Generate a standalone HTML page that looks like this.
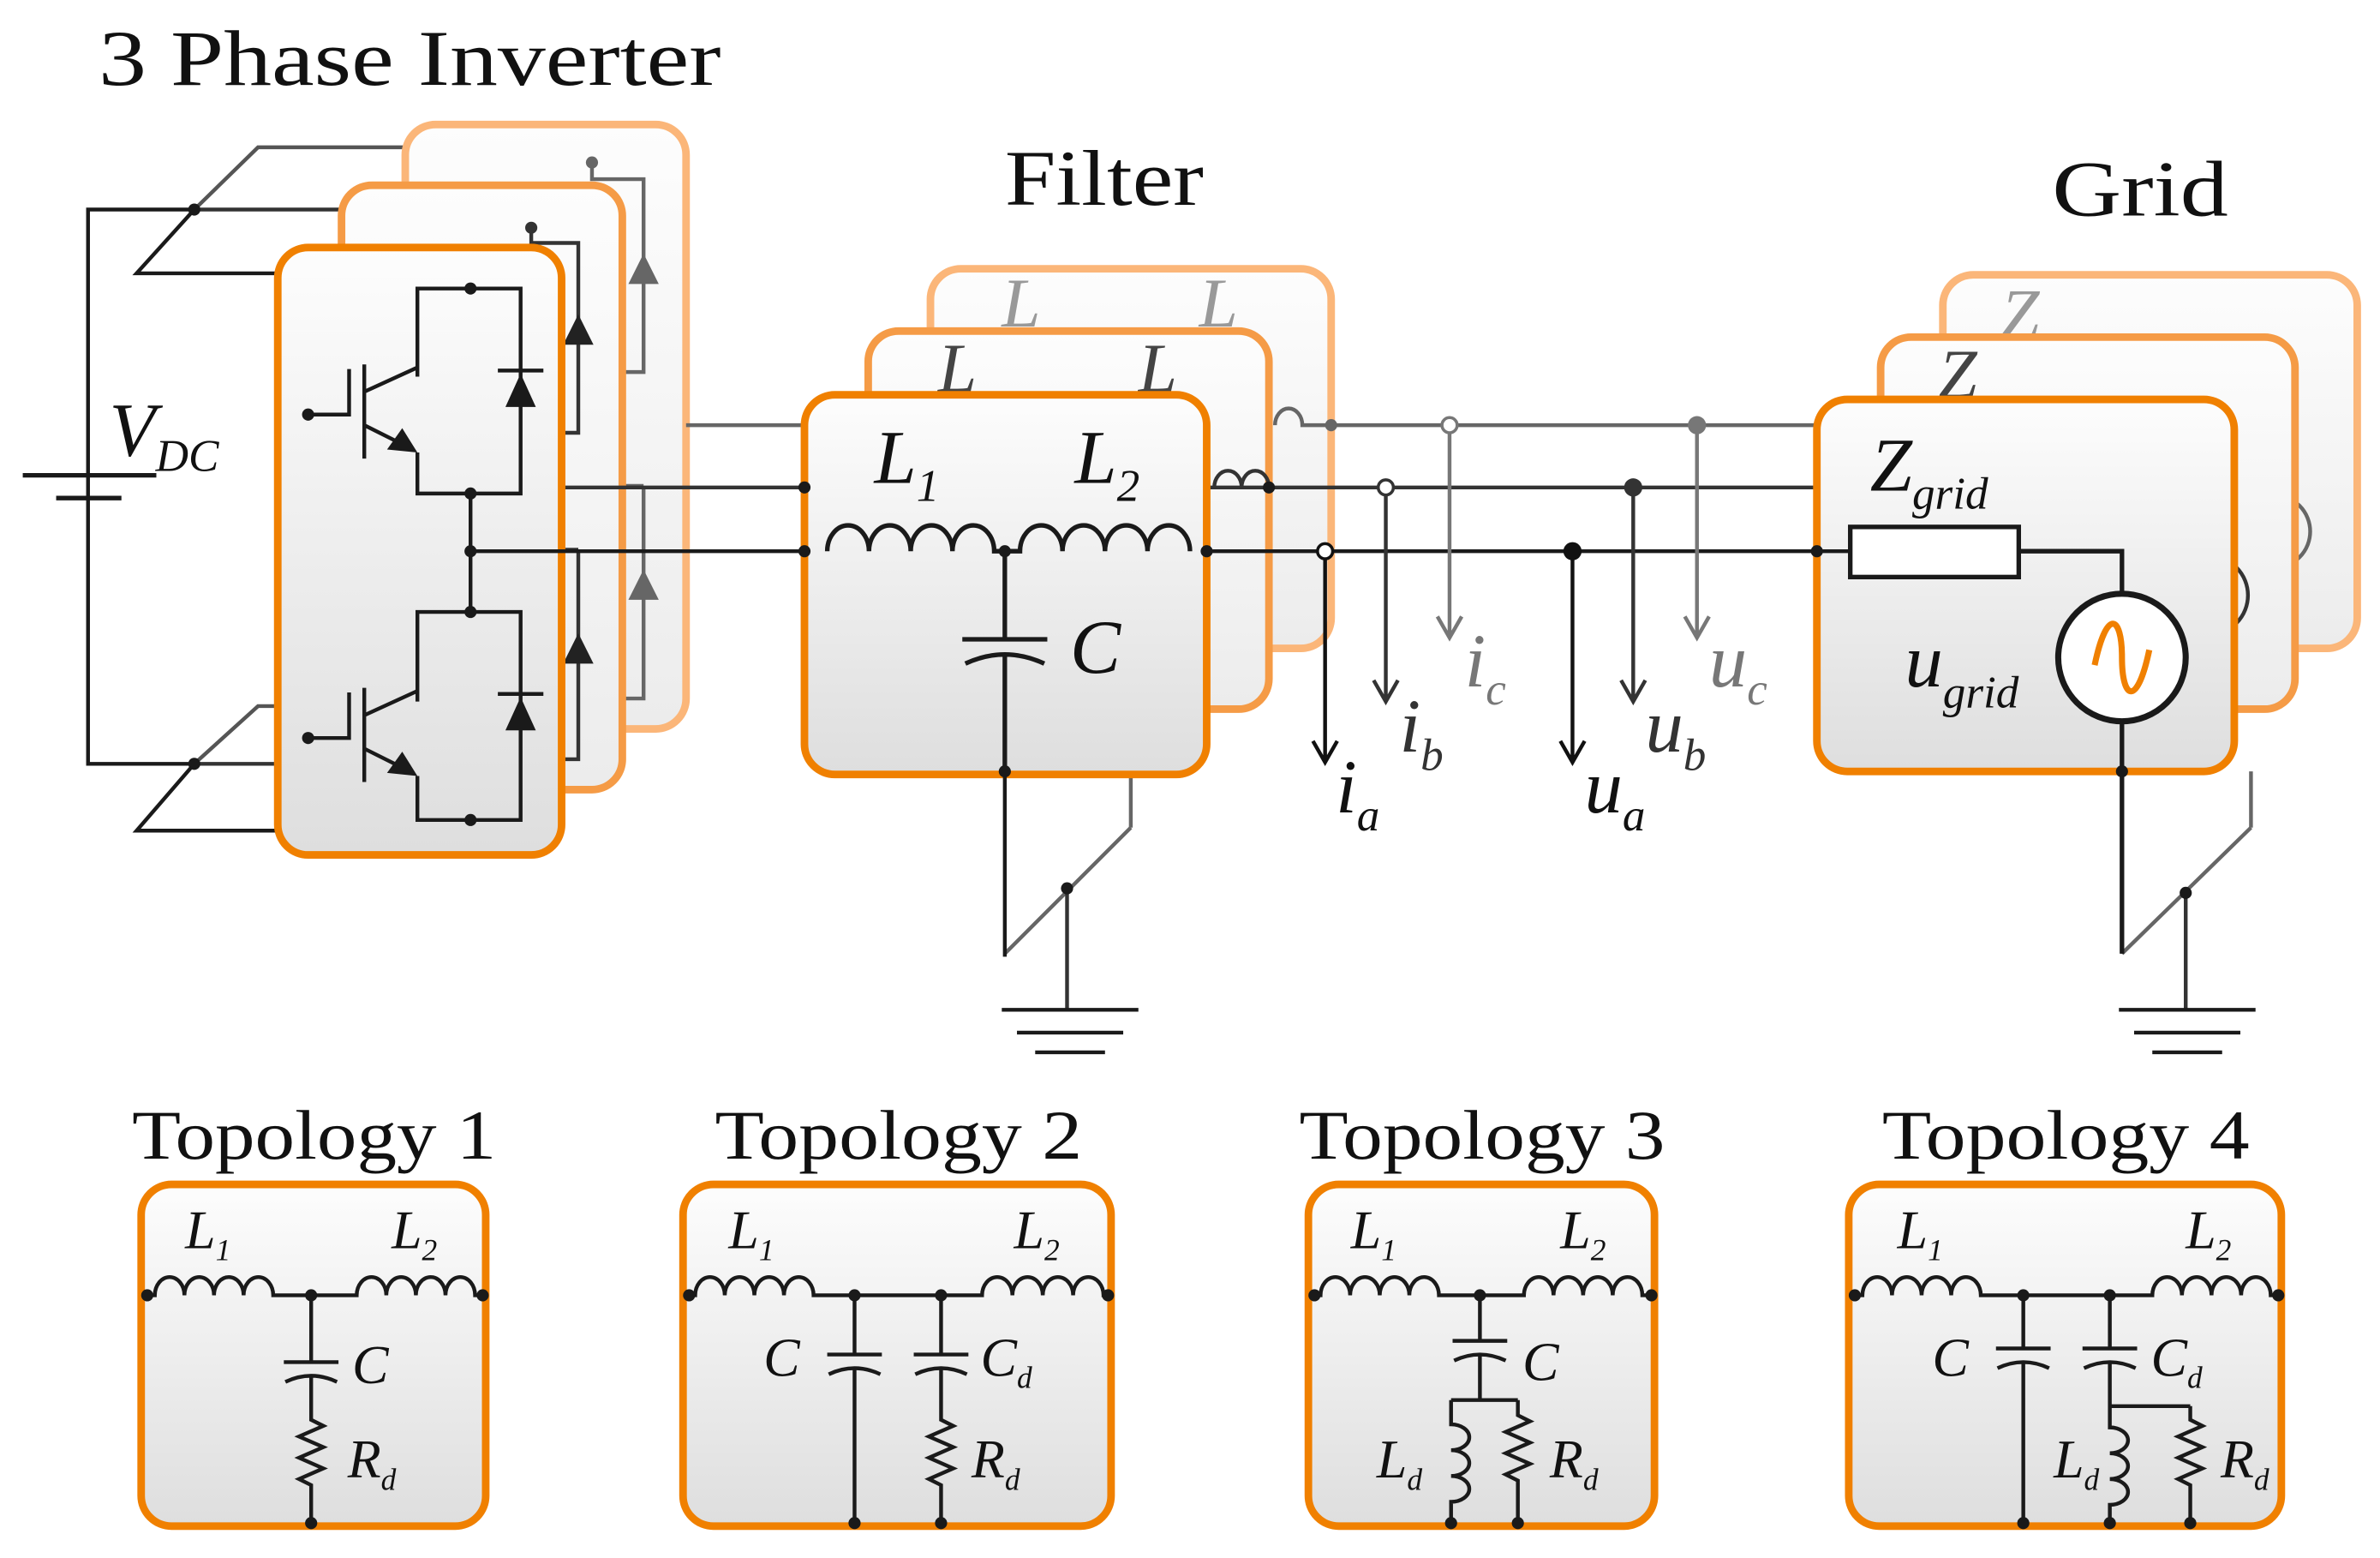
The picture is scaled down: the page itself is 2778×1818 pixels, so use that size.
<!DOCTYPE html>
<html><head><meta charset="utf-8"><style>html,body{margin:0;padding:0;background:#fff}svg{display:block}</style></head>
<body>
<svg xmlns="http://www.w3.org/2000/svg" width="2778" height="1818" viewBox="0 0 1568 1026" preserveAspectRatio="none" font-family="'Liberation Serif',serif">
<defs>
<linearGradient id="g" x1="0" y1="0" x2="0" y2="1"><stop offset="0" stop-color="#fdfdfd"/><stop offset="1" stop-color="#dedede"/></linearGradient>
<linearGradient id="g2" x1="0" y1="0" x2="0" y2="1"><stop offset="0" stop-color="#fdfdfd"/><stop offset="1" stop-color="#ececec"/></linearGradient>
</defs>
<rect width="1568" height="1026" fill="#fff"/>
<g font-size="52" fill="#111">
<text x="65" y="56" textLength="410" lengthAdjust="spacingAndGlyphs">3 Phase Inverter</text>
<text x="662" y="135" textLength="131" lengthAdjust="spacingAndGlyphs">Filter</text>
<text x="1352" y="142" textLength="116" lengthAdjust="spacingAndGlyphs">Grid</text>
</g>

<!-- DC rails and battery -->
<g stroke="#1a1a1a" stroke-width="2.5" fill="none">
<path d="M128 138 H58 V503 H128"/>
<path d="M15 313 H103 M37 328 H80" stroke-width="3"/>
<path d="M128 138 L90 180 H310 V190"/>
<path d="M128 503 L90 547 H310 V540"/>
<path d="M128 138 H350 V150" stroke="#333"/>
<path d="M128 503 H225" stroke="#333"/>
<path d="M128 138 L170 97 H390 V107" stroke="#555"/>
<path d="M128 503 L170 465 H183" stroke="#555"/>
</g>
<g fill="#1a1a1a"><circle cx="128" cy="138" r="4"/><circle cx="128" cy="503" r="4"/></g>
<text x="72" y="300" font-size="50" font-style="italic" fill="#111">V<tspan font-size="30" dy="10">DC</tspan></text>

<!-- back boxes -->
<rect x="267" y="82" width="185" height="398" rx="20" fill="url(#g2)" stroke="#fbb679" stroke-width="5"/>
<rect x="613" y="177" width="264" height="250" rx="20" fill="url(#g2)" stroke="#fbb679" stroke-width="5"/>
<rect x="1280" y="181" width="273" height="246" rx="20" fill="url(#g2)" stroke="#fbb679" stroke-width="5"/>
<g stroke="#666" stroke-width="2.5" fill="none">
<path d="M390 107 V118 H424 V245 H390 M424 320 H390 M424 320 V460 H390"/>
<path d="M452 280 H613 M877 280 H1280"/>
<path d="M840 280 a9 11 0 0 1 18 0 H877"/>
<circle cx="1498" cy="350" r="24"/>
<path d="M745 545 L662 628 M1483 545 L1398 628"/>
<path d="M745 508 V545 M1483 508 V545"/>
</g>
<path d="M414 187 h20 l-10 -20z M414 395 h20 l-10 -20z" fill="#666"/>
<circle cx="390" cy="107" r="4" fill="#666"/>
<text x="660" y="215" font-size="46" font-style="italic" fill="#999">L</text>
<text x="790" y="215" font-size="46" font-style="italic" fill="#999">L</text>
<text x="1318" y="222" font-size="46" font-style="italic" fill="#999">Z</text>

<!-- middle boxes -->
<rect x="225" y="122" width="185" height="398" rx="20" fill="url(#g2)" stroke="#f59b46" stroke-width="5"/>
<rect x="572" y="218" width="264" height="249" rx="20" fill="url(#g2)" stroke="#f59b46" stroke-width="5"/>
<rect x="1239" y="222" width="273" height="245" rx="20" fill="url(#g2)" stroke="#f59b46" stroke-width="5"/>
<g stroke="#333" stroke-width="2.5" fill="none">
<path d="M350 150 V160 H381 V285 H350 M381 362 H350 M381 362 V500 H350"/>
<path d="M370 321 H530 M795 321 H1239"/>
<path d="M800 321 a9 11 0 0 1 18 0 a9 11 0 0 1 18 0"/>
<circle cx="1455" cy="392" r="26"/>
<path d="M703 585 V665 M1440 588 V665"/>
</g>
<path d="M371 227 h20 l-10 -20z M371 437 h20 l-10 -20z" fill="#222"/>
<circle cx="350" cy="150" r="4" fill="#333"/>
<text x="618" y="258" font-size="46" font-style="italic" fill="#444">L</text>
<text x="750" y="258" font-size="46" font-style="italic" fill="#444">L</text>
<text x="1277" y="262" font-size="46" font-style="italic" fill="#444">Z</text>

<!-- front boxes -->
<rect x="183" y="163" width="187" height="400" rx="20" fill="url(#g)" stroke="#f08000" stroke-width="5"/>
<rect x="530" y="260" width="265" height="250" rx="20" fill="url(#g)" stroke="#f08000" stroke-width="5"/>
<rect x="1197" y="263" width="275" height="245" rx="20" fill="url(#g)" stroke="#f08000" stroke-width="5"/>

<!-- inverter front internals -->
<g stroke="#1a1a1a" stroke-width="2.5" fill="none">
<path d="M275 248 V190 H343 V325 H275 V298"/>
<path d="M275 462 V403 H343 V540 H275 V511"/>
<path d="M310 325 V403"/>
<path d="M203 273 H230 V243 M240 240 V302 M240 258 L275 242 M240 280 L268 294" />
<path d="M203 486 H230 V456 M240 453 V515 M240 471 L275 455 M240 493 L268 507" />
<path d="M328 244 H358 M328 457 H358"/>
<path d="M310 363 H530 M795 363 H1219"/>
</g>
<path d="M333 268 h20 l-10 -22z M333 481 h20 l-10 -22z" fill="#1a1a1a"/>
<path d="M275 298 l-20 -2 l10 -14z M275 511 l-20 -2 l10 -14z" fill="#1a1a1a"/>
<g fill="#1a1a1a"><circle cx="310" cy="190" r="4"/><circle cx="310" cy="325" r="4"/><circle cx="310" cy="363" r="4"/><circle cx="310" cy="403" r="4"/><circle cx="310" cy="540" r="4"/><circle cx="203" cy="273" r="4"/><circle cx="203" cy="486" r="4"/></g>

<!-- filter front -->
<g stroke="#1a1a1a" stroke-width="3" fill="none">
<path d="M545 363 a13.75 17 0 0 1 27.5 0 a13.75 17 0 0 1 27.5 0 a13.75 17 0 0 1 27.5 0 a13.75 17 0 0 1 27.5 0 H672 a14 17 0 0 1 28 0 a14 17 0 0 1 28 0 a14 17 0 0 1 28 0 a14 17 0 0 1 28 0"/>
<path d="M662 363 V421 M634 421 H690 M636 437 Q662 425 688 437 M662 432 V508"/>
<path d="M662 508 V630" stroke-width="2.5"/>
<path d="M660 665 H750 M670 680 H740 M682 693 H728" stroke-width="2.5"/>
</g>
<g fill="#1a1a1a"><circle cx="530" cy="363" r="4"/><circle cx="662" cy="363" r="4"/><circle cx="795" cy="363" r="4"/><circle cx="662" cy="508" r="4"/><circle cx="703" cy="585" r="4"/><circle cx="530" cy="321" r="4"/><circle cx="836" cy="321" r="4"/><circle cx="877" cy="280" r="4" fill="#666"/></g>
<text x="576" y="318" font-size="50" font-style="italic" fill="#111">L<tspan font-size="30" dy="12">1</tspan></text>
<text x="708" y="318" font-size="50" font-style="italic" fill="#111">L<tspan font-size="30" dy="12">2</tspan></text>
<text x="705" y="443" font-size="50" font-style="italic" fill="#111">C</text>

<!-- measurements -->
<g stroke-width="2.5" fill="none">
<path d="M873 367 V500 M865 488 L873 502 L881 488" stroke="#111"/>
<path d="M913 325 V460 M905 448 L913 462 L921 448" stroke="#333"/>
<path d="M955 284 V418 M947 406 L955 420 L963 406" stroke="#777"/>
<path d="M1036 363 V500 M1028 488 L1036 502 L1044 488" stroke="#111"/>
<path d="M1076 321 V460 M1068 448 L1076 462 L1084 448" stroke="#333"/>
<path d="M1118 280 V418 M1110 406 L1118 420 L1126 406" stroke="#777"/>
</g>
<circle cx="873" cy="363" r="5" fill="#fff" stroke="#111" stroke-width="2"/>
<circle cx="913" cy="321" r="5" fill="#fff" stroke="#333" stroke-width="2"/>
<circle cx="955" cy="280" r="5" fill="#fff" stroke="#777" stroke-width="2"/>
<circle cx="1036" cy="363" r="6" fill="#111"/>
<circle cx="1076" cy="321" r="6" fill="#333"/>
<circle cx="1118" cy="280" r="6" fill="#777"/>
<g font-size="50" font-style="italic">
<text x="880" y="535" fill="#111">i<tspan font-size="30" dy="12">a</tspan></text>
<text x="922" y="495" fill="#333">i<tspan font-size="30" dy="12">b</tspan></text>
<text x="965" y="452" fill="#777">i<tspan font-size="30" dy="12">c</tspan></text>
<text x="1044" y="535" fill="#111">u<tspan font-size="30" dy="12">a</tspan></text>
<text x="1084" y="495" fill="#333">u<tspan font-size="30" dy="12">b</tspan></text>
<text x="1126" y="452" fill="#777">u<tspan font-size="30" dy="12">c</tspan></text>
</g>

<!-- grid front -->
<g stroke="#1a1a1a" stroke-width="3" fill="none">
<rect x="1219" y="347" width="111" height="33" fill="#fff"/>
<path d="M1330 363 H1398 V391 M1398 475 V628"/>
<circle cx="1398" cy="433" r="42" fill="#fff" stroke-width="4"/>
<path d="M1380 438 C1388 400 1398 405 1398 433 C1398 461 1408 466 1416 428" stroke="#f08000" stroke-width="4"/>
<path d="M1398 508 V628 M1396 665 H1486 M1406 680 H1476 M1418 693 H1464" stroke-width="2.5"/>
</g>
<g fill="#1a1a1a"><circle cx="1197" cy="363" r="4"/><circle cx="1398" cy="508" r="4"/><circle cx="1440" cy="588" r="4"/></g>
<text x="1232" y="323" font-size="50" font-style="italic" fill="#111">Z<tspan font-size="30" dy="12">grid</tspan></text>
<text x="1255" y="452" font-size="50" font-style="italic" fill="#111">u<tspan font-size="30" dy="14">grid</tspan></text>

<!-- topologies -->
<g font-size="46" fill="#111">
<text x="87" y="763" textLength="240" lengthAdjust="spacingAndGlyphs">Topology 1</text>
<text x="471" y="763" textLength="242" lengthAdjust="spacingAndGlyphs">Topology 2</text>
<text x="856" y="763" textLength="241" lengthAdjust="spacingAndGlyphs">Topology 3</text>
<text x="1240" y="763" textLength="242" lengthAdjust="spacingAndGlyphs">Topology 4</text>
</g>
<g fill="url(#g)" stroke="#f08000" stroke-width="5">
<rect x="93" y="780" width="227" height="225" rx="20"/>
<rect x="450" y="780" width="282" height="225" rx="20"/>
<rect x="862" y="780" width="228" height="225" rx="20"/>
<rect x="1218" y="780" width="285" height="225" rx="20"/>
</g>
<g stroke="#1a1a1a" stroke-width="2.5" fill="none">
<path d="M97 853 H102 a9.75 12 0 0 1 19.5 0 a9.75 12 0 0 1 19.5 0 a9.75 12 0 0 1 19.5 0 a9.75 12 0 0 1 19.5 0 H235 a9.75 12 0 0 1 19.5 0 a9.75 12 0 0 1 19.5 0 a9.75 12 0 0 1 19.5 0 a9.75 12 0 0 1 19.5 0 H318"/>
<path d="M205 853 V897 M187 897 H223 M188 910 Q205 902 222 910 M205 906 V935 l8 4 l-16 7 l16 7 l-16 7 l16 7 l-16 7 l8 4 V1003"/>
<path d="M454 853 H458 a9.75 12 0 0 1 19.5 0 a9.75 12 0 0 1 19.5 0 a9.75 12 0 0 1 19.5 0 a9.75 12 0 0 1 19.5 0 H647 a10 12 0 0 1 20 0 a10 12 0 0 1 20 0 a10 12 0 0 1 20 0 a10 12 0 0 1 20 0 H730"/>
<path d="M563 853 V892 M545 892 H581 M546 905 Q563 897 580 905 M563 901 V1003"/>
<path d="M620 853 V892 M602 892 H638 M603 905 Q620 897 637 905 M620 901 V935 l8 4 l-16 7 l16 7 l-16 7 l16 7 l-16 7 l8 4 V1003"/>
<path d="M866 853 H870 a9.75 12 0 0 1 19.5 0 a9.75 12 0 0 1 19.5 0 a9.75 12 0 0 1 19.5 0 a9.75 12 0 0 1 19.5 0 H1004 a9.75 12 0 0 1 19.5 0 a9.75 12 0 0 1 19.5 0 a9.75 12 0 0 1 19.5 0 a9.75 12 0 0 1 19.5 0 H1088"/>
<path d="M975 853 V883 M957 883 H993 M958 896 Q975 888 992 896 M975 892 V922 M956 922 H1000 M956 922 V938 a12 8.5 0 0 1 0 17 a12 8.5 0 0 1 0 17 a12 8.5 0 0 1 0 17 V1003 M1000 922 V932 l8 4 l-16 7 l16 7 l-16 7 l16 7 l-16 7 l8 4 V1003"/>
<path d="M1222 853 H1227 a9.75 12 0 0 1 19.5 0 a9.75 12 0 0 1 19.5 0 a9.75 12 0 0 1 19.5 0 a9.75 12 0 0 1 19.5 0 H1418 a9.75 12 0 0 1 19.5 0 a9.75 12 0 0 1 19.5 0 a9.75 12 0 0 1 19.5 0 a9.75 12 0 0 1 19.5 0 H1501"/>
<path d="M1333 853 V888 M1315 888 H1351 M1316 901 Q1333 893 1350 901 M1333 897 V1003"/>
<path d="M1390 853 V888 M1372 888 H1408 M1373 901 Q1390 893 1407 901 M1390 897 V926 H1443 M1390 926 V940 a12 8.5 0 0 1 0 17 a12 8.5 0 0 1 0 17 a12 8.5 0 0 1 0 17 V1003 M1443 926 V935 l8 4 l-16 7 l16 7 l-16 7 l16 7 l-16 7 l8 4 V1003"/>
</g>
<g fill="#1a1a1a">
<circle cx="97" cy="853" r="4"/><circle cx="318" cy="853" r="4"/><circle cx="205" cy="853" r="4"/><circle cx="205" cy="1003" r="4"/>
<circle cx="454" cy="853" r="4"/><circle cx="730" cy="853" r="4"/><circle cx="563" cy="853" r="4"/><circle cx="620" cy="853" r="4"/><circle cx="563" cy="1003" r="4"/><circle cx="620" cy="1003" r="4"/>
<circle cx="866" cy="853" r="4"/><circle cx="1088" cy="853" r="4"/><circle cx="975" cy="853" r="4"/><circle cx="956" cy="1003" r="4"/><circle cx="1000" cy="1003" r="4"/>
<circle cx="1222" cy="853" r="4"/><circle cx="1501" cy="853" r="4"/><circle cx="1333" cy="853" r="4"/><circle cx="1390" cy="853" r="4"/><circle cx="1333" cy="1003" r="4"/><circle cx="1390" cy="1003" r="4"/><circle cx="1443" cy="1003" r="4"/>
</g>
<g font-size="36" font-style="italic" fill="#111">
<text x="122" y="822">L<tspan font-size="20" dy="8">1</tspan></text>
<text x="258" y="822">L<tspan font-size="20" dy="8">2</tspan></text>
<text x="232" y="911">C</text>
<text x="229" y="973">R<tspan font-size="20" dy="8">d</tspan></text>
<text x="480" y="822">L<tspan font-size="20" dy="8">1</tspan></text>
<text x="668" y="822">L<tspan font-size="20" dy="8">2</tspan></text>
<text x="503" y="906">C</text>
<text x="646" y="906">C<tspan font-size="20" dy="8">d</tspan></text>
<text x="640" y="973">R<tspan font-size="20" dy="8">d</tspan></text>
<text x="890" y="822">L<tspan font-size="20" dy="8">1</tspan></text>
<text x="1028" y="822">L<tspan font-size="20" dy="8">2</tspan></text>
<text x="1003" y="909">C</text>
<text x="907" y="973">L<tspan font-size="20" dy="8">d</tspan></text>
<text x="1021" y="973">R<tspan font-size="20" dy="8">d</tspan></text>
<text x="1250" y="822">L<tspan font-size="20" dy="8">1</tspan></text>
<text x="1440" y="822">L<tspan font-size="20" dy="8">2</tspan></text>
<text x="1273" y="906">C</text>
<text x="1417" y="906">C<tspan font-size="20" dy="8">d</tspan></text>
<text x="1353" y="973">L<tspan font-size="20" dy="8">d</tspan></text>
<text x="1463" y="973">R<tspan font-size="20" dy="8">d</tspan></text>
</g>
</svg>
</body></html>
